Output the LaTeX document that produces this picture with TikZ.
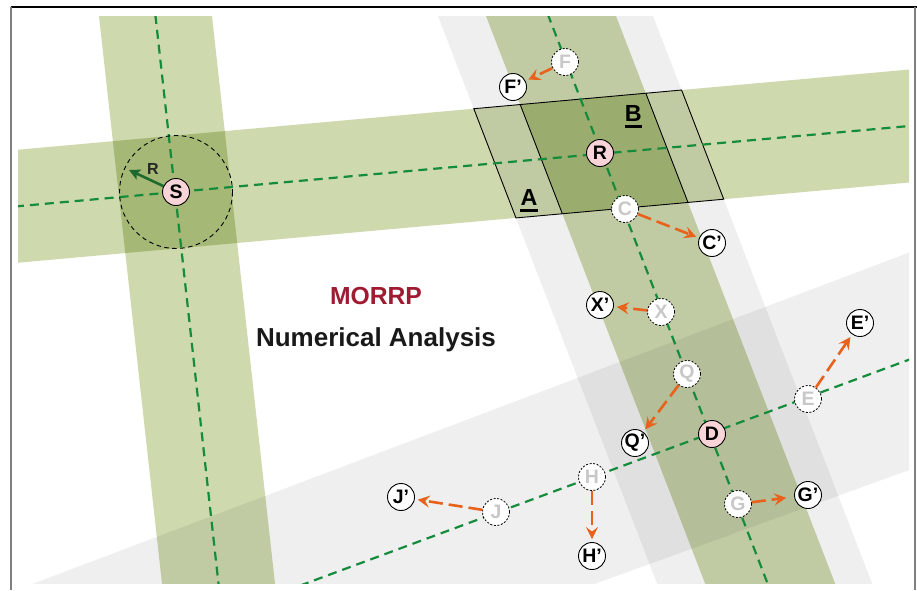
\documentclass[tikz,border=0pt]{standalone}
\usepackage{fontspec}
\setmainfont{Liberation Sans}
\usetikzlibrary{arrows.meta}
\definecolor{bandgreen}{RGB}{206,217,174}
\definecolor{bandgray}{RGB}{239,239,239}
\definecolor{lineg}{RGB}{20,140,60}
\definecolor{orangeA}{RGB}{232,98,28}
\definecolor{pinkN}{RGB}{248,212,216}
\definecolor{fadeT}{RGB}{200,200,200}
\definecolor{titlered}{RGB}{158,27,50}
\definecolor{darkG}{RGB}{30,105,45}
\begin{document}
\begin{tikzpicture}[x=1pt,y=-1pt,
  nd/.style={circle,draw=black,line width=0.9pt,minimum size=27pt,inner sep=0pt,fill=white,font=\fontsize{19.5}{19.5}\selectfont\bfseries},
  pk/.style={nd,fill=pinkN},
  fd/.style={nd,dash pattern=on 2pt off 1.6pt,line width=0.8pt,text=fadeT},
  mv/.style={draw=orangeA,line width=2.6pt,dash pattern=on 14pt off 6pt,-{Stealth[length=12pt,width=12pt,inset=4.5pt]},shorten >=3pt},
  gl/.style={draw=lineg,line width=2.2pt,dash pattern=on 9pt off 6pt},
  lbl/.style={anchor=base,inner sep=0pt,font=\fontsize{23.3}{23.3}\selectfont\bfseries},
]
\useasboundingbox (0,0) rectangle (917,590);
% band edge coordinates
\coordinate (ht1) at (0,151.34); \coordinate (ht2) at (917,68.81);
\coordinate (hb1) at (0,264.34); \coordinate (hb2) at (917,181.81);
\coordinate (gl1) at (431.8,0);  \coordinate (gl2) at (659.6,590);
\coordinate (gr1) at (646.8,0);  \coordinate (gr2) at (874.6,590);
\coordinate (cl1) at (479.8,0);  \coordinate (cl2) at (707.6,590);
\coordinate (cr1) at (609.8,0);  \coordinate (cr2) at (837.6,590);
\begin{scope}
  \clip (18,16) rectangle (909,583);
  \begin{scope}[blend mode=multiply]
    \fill[bandgray] (gl1) -- (gr1) -- (gr2) -- (gl2) -- cycle;
    \fill[bandgray] (0,596.2) -- (917,249.6) -- (917,467.2) -- (560,596.4) -- cycle;
    \fill[bandgreen] (97.2,0) -- (210.2,0) -- (275.7,590) -- (162.7,590) -- cycle;
    \fill[bandgreen] (cl1) -- (cr1) -- (cr2) -- (cl2) -- cycle;
    \fill[bandgreen] (ht1) -- (ht2) -- (hb2) -- (hb1) -- cycle;
  \end{scope}
  \draw[line width=0.9pt]
    (intersection of ht1--ht2 and gl1--gl2) -- (intersection of ht1--ht2 and gr1--gr2)
    -- (intersection of hb1--hb2 and gr1--gr2) -- (intersection of hb1--hb2 and gl1--gl2) -- cycle;
  \draw[line width=0.9pt]
    (intersection of ht1--ht2 and cl1--cl2) -- (intersection of hb1--hb2 and cl1--cl2);
  \draw[line width=0.9pt]
    (intersection of ht1--ht2 and cr1--cr2) -- (intersection of hb1--hb2 and cr1--cr2);
  \draw[gl] (153.7,0) -- (219.2,590);
  \draw[gl] (0,207.84) -- (917,125.31);
  \draw[gl] (542.3,0) -- (770.1,590);
  \draw[gl] (300,585.6) -- (917,356.7);
\end{scope}
% frame
\draw[line width=1.2pt] (10.5,7) -- (917,7);
\draw[gray, line width=1.6pt] (11,7) -- (11,590);
\draw[gray, line width=1.2pt] (915,7) -- (915,590);
% nodes
\node[pk] (S) at (176,192) {S};
\node[pk] (R) at (600,153) {R};
\node[pk] (D) at (712,434) {D};
\node[fd] (F) at (565,62) {F};
\node[nd] (F2) at (513,87) {F’};
\node[fd] (C) at (625,209) {C};
\node[nd] (C2) at (712,243) {C’};
\node[fd] (X) at (661,312) {X};
\node[nd] (X2) at (600,305) {X’};
\node[fd] (Q) at (687,374) {Q};
\node[nd] (Q2) at (635,443) {Q’};
\node[fd] (E) at (808,399) {E};
\node[nd] (E2) at (860,323) {E’};
\node[fd] (H) at (592,477) {H};
\node[nd] (H2) at (592,556) {H’};
\node[fd] (J) at (496,512) {J};
\node[nd] (J2) at (401,497) {J’};
\node[fd] (G) at (738,504) {G};
\node[nd] (G2) at (808,495) {G’};
% circle around S and radius arrow
\draw[line width=0.9pt, dash pattern=on 4.5pt off 3.5pt] (S.center) circle[radius=56.5];
\coordinate (Rtip) at (129,170);
\draw[darkG, line width=2.6pt, -{Stealth[length=11pt,width=11pt,inset=2.5pt]}] (S) -- (Rtip);
\node[font=\fontsize{16}{16}\selectfont\bfseries, text=black!85, inner sep=0pt] (Rlab) at (153,169) {R};
% displacement arrows
\draw[mv] (F) -- (F2);
\draw[mv] (C) -- (C2);
\draw[mv] (X) -- (X2);
\draw[mv] (Q) -- (Q2);
\draw[mv] (E) -- (E2);
\draw[mv] (H) -- (H2);
\draw[mv] (J) -- (J2);
\draw[mv, shorten >=8pt] (G) -- (G2);
% region labels
\node[lbl] (A) at (529,205.7) {A};
\draw[line width=2.7pt] ([yshift=-4.6pt]A.base west) -- ([yshift=-4.6pt]A.base east);
\node[lbl] (B) at (633.4,121.7) {B};
\draw[line width=2.7pt] ([yshift=-4.6pt]B.base west) -- ([yshift=-4.6pt]B.base east);
% titles
\node[anchor=base, text=titlered, font=\fontsize{24.7}{25}\selectfont\bfseries] (title) at (376,304.3) {MORRP};
\node[anchor=base, text=black!90, font=\fontsize{26}{26}\selectfont\bfseries] (sub) at (376,346) {Numerical Analysis};
\end{tikzpicture}
\end{document}
